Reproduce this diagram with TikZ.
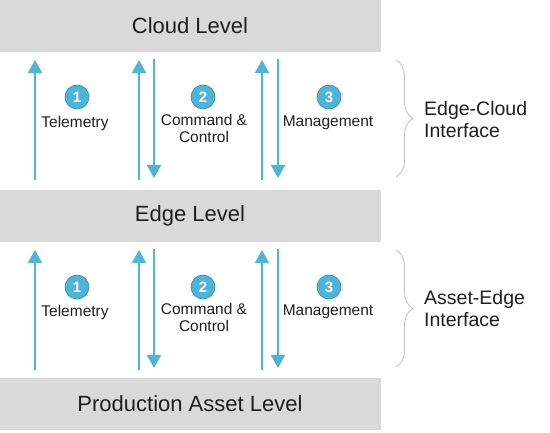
\documentclass[tikz,border=0pt]{standalone}
\usepackage{fontspec}
\setmainfont{Liberation Sans}
\usetikzlibrary{arrows.meta,decorations.pathreplacing}
\definecolor{barGray}{RGB}{217,217,217}
\definecolor{flowBlue}{RGB}{78,180,218}
\definecolor{circEdge}{RGB}{45,140,180}
\definecolor{braceGray}{RGB}{190,190,190}
\definecolor{txt}{RGB}{30,30,30}
\tikzset{
  levelbar/.style={fill=barGray, draw=none, minimum width=381pt, minimum height=52pt, inner sep=0pt, anchor=north west},
  leveltext/.style={text=txt, font=\fontsize{22}{24}\selectfont},
  flow/.style={draw=flowBlue, line width=2pt, -{Triangle[width=14pt,length=13pt]}},
  numcirc/.style={circle, fill=flowBlue, draw=circEdge, line width=0.6pt, minimum size=24pt, inner sep=0pt, text=white, font=\fontsize{15}{15}\selectfont\bfseries},
  flowlabel/.style={font=\fontsize{15.5}{17}\selectfont, text=txt, align=center, inner sep=0pt},
  ifacebrace/.style={draw=braceGray, line width=0.8pt, decorate, decoration={brace, amplitude=17pt}},
  ifacelabel/.style={font=\fontsize{19.5}{22}\selectfont, text=txt, align=left, anchor=west, inner sep=0pt}
}
\begin{document}
\begin{tikzpicture}[x=1pt, y=-1pt]
\useasboundingbox (0,0) rectangle (550,433);
% level bars
\node[levelbar] (cloud) at (0,0) {};
\node[leveltext] (cloudt) at (190,26) {Cloud Level};
\node[levelbar] (edge) at (0,190) {};
\node[leveltext] (edget) at (190,216) {Edge Level};
\node[levelbar] (asset) at (0,378) {};
\node[leveltext] (assett) at (190,404) {Production Asset Level};

% arrow and brace coordinates
\foreach \s/\dy in {u/0, l/190} {
  \coordinate (tA\s) at (35,180+\dy);  \coordinate (tB\s) at (35,60+\dy);
  \coordinate (cuA\s) at (139,180+\dy); \coordinate (cuB\s) at (139,60+\dy);
  \coordinate (cdA\s) at (154,59+\dy); \coordinate (cdB\s) at (154,178+\dy);
  \coordinate (muA\s) at (262,180+\dy); \coordinate (muB\s) at (262,60+\dy);
  \coordinate (mdA\s) at (278,59+\dy); \coordinate (mdB\s) at (278,178+\dy);
  \coordinate (brA\s) at (396,60+\dy); \coordinate (brB\s) at (396,177+\dy);
}
\foreach \s in {u,l} {
  \draw[flow] (tA\s) -- (tB\s);
  \draw[flow] (cuA\s) -- (cuB\s);
  \draw[flow] (cdA\s) -- (cdB\s);
  \draw[flow] (muA\s) -- (muB\s);
  \draw[flow] (mdA\s) -- (mdB\s);
  \draw[ifacebrace] (brA\s) -- (brB\s);
}

% upper labels
\node[numcirc] (n1u) at (77,97) {1};
\node[flowlabel] (telu) at (75,123) {Telemetry};
\node[numcirc] (n2u) at (203,97) {2};
\node[flowlabel] (ccu) at (204,128) {Command \&\\Control};
\node[numcirc] (n3u) at (329,97) {3};
\node[flowlabel] (mgu) at (328,123) {Management};
\node[ifacelabel] (ifu) at (424,120) {Edge-Cloud\\Interface};

% lower labels
\node[numcirc] (n1l) at (77,287) {1};
\node[flowlabel] (tell) at (75,312) {Telemetry};
\node[numcirc] (n2l) at (203,287) {2};
\node[flowlabel] (ccl) at (204,317) {Command \&\\Control};
\node[numcirc] (n3l) at (329,287) {3};
\node[flowlabel] (mgl) at (328,312) {Management};
\node[ifacelabel] (ifl) at (424,309) {Asset-Edge\\Interface};
\end{tikzpicture}
\end{document}
